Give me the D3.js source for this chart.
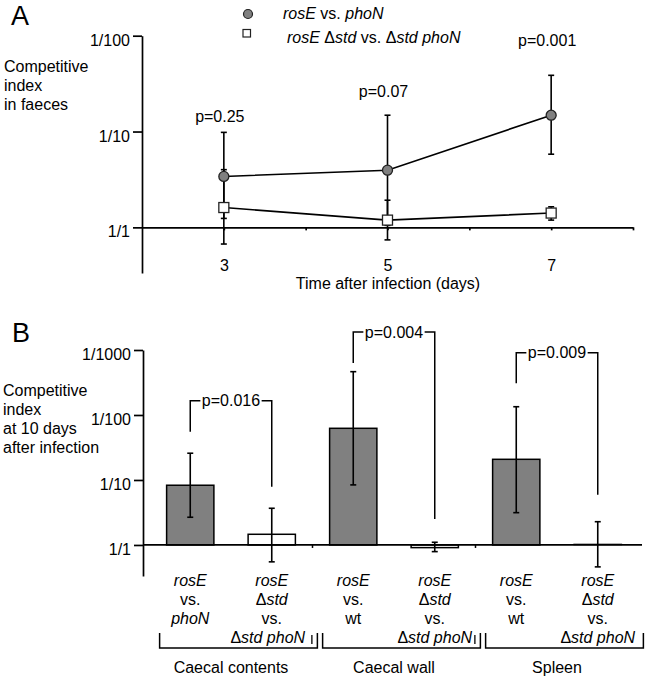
<!DOCTYPE html>
<html><head><meta charset="utf-8">
<script src="https://cdn.jsdelivr.net/npm/d3@7"></script>
<style>
body{margin:0;background:#fff}
svg{display:block;font-family:"Liberation Sans",Arial,sans-serif;font-size:16px}
text{fill:#000;white-space:pre}
</style>
</head><body>
<svg id="c" width="650" height="678"></svg>
<script>
// ---------- Panel A data (values are fold = 1 / competitive index) ----------
const days = [3, 5, 7];
const dayTicks = [3, 4, 5, 6, 7, 8];
const dayLabels = [3, 5, 7];
const seriesNames = ["*rosE* vs. *phoN*", "*rosE* Δ*std* vs. Δ*std phoN*"];
const rosE_phoN = [3.4, 3.95, 14.8];
const rosE_phoN_lo = [1.24, 1.05, 5.8];
const rosE_phoN_hi = [9.8, 14.8, 38.6];
const std_phoN = [1.61, 1.19, 1.41];
const std_phoN_lo = [0.67, 0.74, 1.19];
const std_phoN_hi = [4.0, 1.92, 1.64];
const pA = ["p=0.25", "p=0.07", "p=0.001"];
const pALevel = [12.6, 22.8, 79];
const yTicksA = [1, 10, 100];
const yTitleA = ["Competitive", "index", "in faeces"];
const xTitleA = "Time after infection (days)";

// ---------- Panel B data ----------
const categories = [
  ["*rosE*", "vs.", "*phoN*"],
  ["*rosE*", "Δ*std*", "vs.", "Δ*std phoN*"],
  ["*rosE*", "vs.", "wt"],
  ["*rosE*", "Δ*std*", "vs.", "Δ*std phoN*"],
  ["*rosE*", "vs.", "wt"],
  ["*rosE*", "Δ*std*", "vs.", "Δ*std phoN*"]
];
const barSeries = ["rosE", "std", "rosE", "std", "rosE", "std"];
const barValues = [8.3, 1.46, 62.4, 0.91, 20.8, 1.04];
const barLo = [2.67, 0.55, 8.4, 0.79, 3.14, 0.46];
const barHi = [25.8, 3.67, 464, 1.1, 134, 2.28];
const groups = ["Caecal contents", "Caecal wall", "Spleen"];
const pB = ["p=0.016", "p=0.004", "p=0.009"];
const pBLevel = [166, 1900, 910];
const pBLegLeft = [55.4, 631, 307];
const pBLegRight = [7.9, 2.5, 5.9];
const yTicksB = [1, 10, 100, 1000];
const yTitleB = ["Competitive", "index", "at 10 days", "after infection"];

const FONT = '"Liberation Sans",Arial,sans-serif';
const GREY = "#808080";
const svg = d3.select("#c");

function rich(sel, str) {
  str.split("*").forEach((s, i) => {
    if (!s) return;
    sel.append("tspan").attr("font-style", i % 2 ? "italic" : "normal").text(s);
  });
}
function styleAxis(g) {
  g.attr("font-size", 16).attr("font-family", FONT);
  g.select(".domain").attr("stroke", "#000").attr("stroke-width", 1.7);
  g.selectAll(".tick line").attr("stroke", "#000").attr("stroke-width", 1.7);
}

// ================= PANEL A =================
const xA = d3.scaleLinear().domain([2, 8]).range([142, 633]);
const yA = d3.scaleLog().domain([0.334, 100]).range([273, 35.7]);
const gA = svg.append("g");

gA.append("text").attr("x", 11).attr("y", 25).attr("font-size", 27).text("A");

gA.append("g").attr("transform", `translate(${xA(2)},0)`)
  .call(d3.axisLeft(yA).tickValues(yTicksA).tickFormat(d => "1/" + d)
    .tickSize(9).tickPadding(3).tickSizeOuter(0))
  .call(styleAxis)
  .call(g => g.selectAll("text").attr("dy", "0.6em"));

gA.append("g").attr("transform", `translate(0,${yA(1)})`)
  .call(d3.axisBottom(xA).tickValues(dayTicks)
    .tickFormat(d => dayLabels.includes(d) ? d : "").tickSize(3).tickSizeOuter(0))
  .call(styleAxis)
  .call(g => g.selectAll("text").attr("y", 32));

gA.append("text").attr("x", 388).attr("y", 289).attr("text-anchor", "middle").text(xTitleA);
yTitleA.forEach((t, i) => gA.append("text").attr("x", 4).attr("y", 72 + i * 19).text(t));

const seriesA = [
  {v: rosE_phoN, lo: rosE_phoN_lo, hi: rosE_phoN_hi, shape: "circle"},
  {v: std_phoN, lo: std_phoN_lo, hi: std_phoN_hi, shape: "square"}
];
const cap = 3;
seriesA.forEach(s => {
  days.forEach((d, i) => {
    const x = xA(d);
    gA.append("line").attr("x1", x).attr("x2", x).attr("y1", yA(s.lo[i])).attr("y2", yA(s.hi[i]))
      .attr("stroke", "#000").attr("stroke-width", 1.6);
    [s.lo[i], s.hi[i]].forEach(e => gA.append("line").attr("x1", x - cap).attr("x2", x + cap)
      .attr("y1", yA(e)).attr("y2", yA(e)).attr("stroke", "#000").attr("stroke-width", 1.6));
  });
});
const lineA = d3.line().x((d, i) => xA(days[i])).y(d => yA(d));
seriesA.forEach(s => gA.append("path").attr("d", lineA(s.v)).attr("fill", "none")
  .attr("stroke", "#000").attr("stroke-width", 1.6));
seriesA.forEach(s => {
  days.forEach((d, i) => {
    if (s.shape === "circle")
      gA.append("circle").attr("cx", xA(d)).attr("cy", yA(s.v[i])).attr("r", 5)
        .attr("fill", GREY).attr("stroke", "#222").attr("stroke-width", 1.3);
    else
      gA.append("rect").attr("x", xA(d) - 5).attr("y", yA(s.v[i]) - 5).attr("width", 10).attr("height", 10)
        .attr("fill", "#fff").attr("stroke", "#222").attr("stroke-width", 1.3);
  });
});
pA.forEach((p, i) => gA.append("text").attr("x", xA(days[i]) - 4).attr("y", yA(pALevel[i]))
  .attr("text-anchor", "middle").text(p));

// legend
const lg = gA.append("g");
lg.append("circle").attr("cx", 248).attr("cy", 14).attr("r", 4.5)
  .attr("fill", GREY).attr("stroke", "#222").attr("stroke-width", 1.2);
lg.append("rect").attr("x", 243).attr("y", 29.5).attr("width", 7.5).attr("height", 7.5)
  .attr("fill", "#fff").attr("stroke", "#222").attr("stroke-width", 1.2);
rich(lg.append("text").attr("x", 283).attr("y", 19), seriesNames[0]);
rich(lg.append("text").attr("x", 287).attr("y", 42.5), seriesNames[1]);

// ================= PANEL B =================
const yB = d3.scaleLog().domain([0.333, 1000]).range([576, 350]);
const xB = d3.scaleBand().domain(d3.range(categories.length)).range([149.5, 638.5])
  .paddingInner(0.42).paddingOuter(0.21);
const axisXB = 143;
const gB = svg.append("g");
gB.append("text").attr("x", 12).attr("y", 342).attr("font-size", 27).text("B");
yTitleB.forEach((t, i) => gB.append("text").attr("x", 3).attr("y", 396 + i * 19).text(t));

gB.append("g").attr("transform", `translate(${axisXB},0)`)
  .call(d3.axisLeft(yB).tickValues(yTicksB).tickFormat(d => "1/" + d)
    .tickSize(9).tickPadding(3).tickSizeOuter(0))
  .call(styleAxis)
  .call(g => g.selectAll("text").attr("dy", "0.6em"));

const bw = xB.bandwidth();
const cx = i => xB(i) + bw / 2;

// bars
categories.forEach((c, i) => {
  const v = barValues[i];
  const y0 = yB(1), y1 = yB(v);
  gB.append("rect").attr("x", xB(i)).attr("width", bw)
    .attr("y", Math.min(y0, y1)).attr("height", Math.max(Math.abs(y0 - y1), 0.8))
    .attr("fill", barSeries[i] === "rosE" ? GREY : "#fff")
    .attr("stroke", barSeries[i] === "rosE" ? "#000" : (v > 1.1 || v < 0.95 ? "#000" : "#aaa"))
    .attr("stroke-width", 1.5);
});
// x axis line
gB.append("line").attr("x1", axisXB).attr("x2", 642).attr("y1", yB(1)).attr("y2", yB(1))
  .attr("stroke", "#000").attr("stroke-width", 1.7);
groups.forEach((g, gi) => {
  if (gi === 0) return;
  const tx = (cx(gi * 2 - 1) + cx(gi * 2)) / 2;
  gB.append("line").attr("x1", tx).attr("x2", tx).attr("y1", yB(1)).attr("y2", yB(1) + 3)
    .attr("stroke", "#000").attr("stroke-width", 1.5);
});
// error bars
categories.forEach((c, i) => {
  const x = cx(i);
  gB.append("line").attr("x1", x).attr("x2", x).attr("y1", yB(barLo[i])).attr("y2", yB(barHi[i]))
    .attr("stroke", "#000").attr("stroke-width", 1.6);
  [barLo[i], barHi[i]].forEach(e => gB.append("line").attr("x1", x - cap).attr("x2", x + cap)
    .attr("y1", yB(e)).attr("y2", yB(e)).attr("stroke", "#000").attr("stroke-width", 1.6));
});
// significance brackets
pB.forEach((p, gi) => {
  const xl = cx(gi * 2), xr = cx(gi * 2 + 1), yt = yB(pBLevel[gi]);
  const t = gB.append("text").attr("x", (xl + xr) / 2).attr("y", yt + 5.7)
    .attr("text-anchor", "middle").text(p);
  const w = t.node().getComputedTextLength();
  const mid = (xl + xr) / 2;
  const path = d3.path();
  path.moveTo(xl, yB(pBLegLeft[gi])); path.lineTo(xl, yt); path.lineTo(mid - w / 2 - 1.5, yt);
  path.moveTo(mid + w / 2 + 1.5, yt); path.lineTo(xr, yt); path.lineTo(xr, yB(pBLegRight[gi]));
  gB.append("path").attr("d", path.toString()).attr("fill", "none")
    .attr("stroke", "#000").attr("stroke-width", 1.5);
});
// category labels
categories.forEach((lines, i) => {
  lines.forEach((ln, j) => rich(gB.append("text").attr("x", cx(i) - (i === 1 && j === 3 ? 4 : 0))
    .attr("y", 586 + j * 19).attr("text-anchor", "middle"), ln));
});
// group brackets
groups.forEach((g, gi) => {
  const l = xB(gi * 2) - 7, r = xB(gi * 2 + 1) + bw + 22;
  const top = 633, bot = 648;
  gB.append("path").attr("d", `M${l},${top}V${bot}H${r}V${top}`).attr("fill", "none")
    .attr("stroke", "#000").attr("stroke-width", 1.5);
  if (gi < groups.length - 1)
    gB.append("line").attr("x1", r - 5.5).attr("x2", r - 5.5).attr("y1", 635).attr("y2", 644)
      .attr("stroke", "#000").attr("stroke-width", 1.3);
  gB.append("text").attr("x", (cx(gi * 2) + cx(gi * 2 + 1)) / 2).attr("y", 672.5)
    .attr("text-anchor", "middle").text(g);
});
</script>
</body></html>
